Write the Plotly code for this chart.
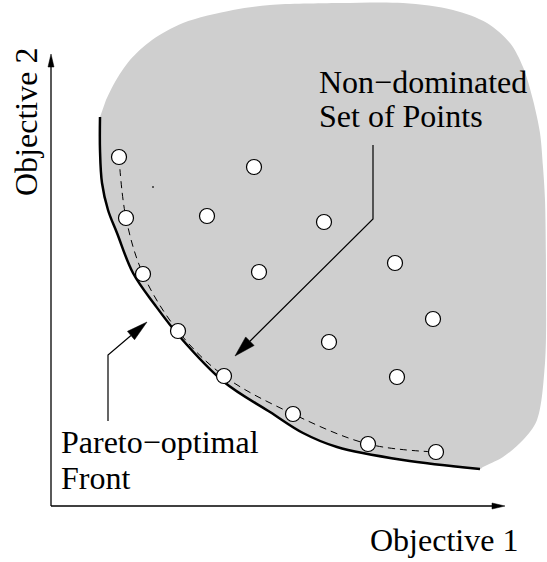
import math
import plotly.graph_objects as go

W, H = 547, 562

# Solution points (Objective 1, Objective 2) in diagram units (y grows downward)
obj1 = [119, 254, 126, 207, 324, 143, 259, 395, 178, 433, 329, 224, 397, 293, 368, 436]
obj2 = [157, 167, 218, 216, 222, 274, 272, 263, 331, 319, 342, 376, 377, 414, 444, 452]
# indices of non-dominated points
nd_idx = [0, 2, 5, 8, 11, 13, 14, 15]

# Pareto-optimal front (solid curve)
front_x = [100, 100, 102, 108, 117, 133, 155, 180, 224, 270, 303, 337, 403, 480]
front_y = [117, 150, 183, 210, 233, 273, 305, 337, 382, 412, 433, 447, 460, 469]

# Outer boundary of the feasible region (from bottom-right back to top-left)
outer_x = [483, 503, 523, 537, 545, 546, 545, 543, 540, 533, 523, 510, 487, 453, 403, 340, 270, 233, 183, 152, 130, 115, 106]
outer_y = [467, 457, 440, 420, 363, 280, 200, 167, 133, 100, 67, 43, 23, 10, 3, 3, 5, 10, 23, 40, 60, 82, 100]

stray_x = [153]
stray_y = [187]

FONT = "Liberation Serif"
FS = 32
GRAY = "#cfcfcf"

fig = go.Figure()

# feasible region
fig.add_trace(go.Scatter(
    x=front_x + outer_x, y=front_y + outer_y,
    mode="lines", fill="toself", fillcolor=GRAY,
    line=dict(color=GRAY, width=0, shape="spline", smoothing=0.9),
    hoverinfo="skip"))

# Pareto front
fig.add_trace(go.Scatter(
    x=front_x, y=front_y, mode="lines",
    line=dict(color="black", width=2.5, shape="spline"),
    hoverinfo="skip"))

# dashed line through non-dominated points
fig.add_trace(go.Scatter(
    x=[obj1[i] for i in nd_idx], y=[obj2[i] for i in nd_idx], mode="lines",
    line=dict(color="black", width=1, shape="spline", dash="7px,5px"),
    hoverinfo="skip"))

# points
fig.add_trace(go.Scatter(
    x=obj1, y=obj2, mode="markers",
    marker=dict(size=15, color="white", line=dict(color="black", width=1.2)),
    hoverinfo="skip"))

fig.add_trace(go.Scatter(
    x=stray_x, y=stray_y, mode="markers",
    marker=dict(size=2, color="#333"), hoverinfo="skip"))


def head(tip, tail, length, width):
    ux, uy = tip[0] - tail[0], tip[1] - tail[1]
    n = math.hypot(ux, uy)
    ux, uy = ux / n, uy / n
    bx, by = tip[0] - length * ux, tip[1] - length * uy
    px, py = -uy, ux
    p1 = (bx + width / 2 * px, by + width / 2 * py)
    p2 = (bx - width / 2 * px, by - width / 2 * py)
    return f"M {tip[0]},{tip[1]} L {p1[0]},{p1[1]} L {p2[0]},{p2[1]} Z", (bx, by)


shapes = []


def arrow(points, length, width, lw):
    tip = points[-1]
    tail = points[-2]
    hp, base = head(tip, tail, length, width)
    pts = points[:-1] + [base]
    path = "M " + " L ".join(f"{x},{y}" for x, y in pts)
    shapes.append(dict(type="path", path=path, xref="x", yref="y",
                       line=dict(color="black", width=lw)))
    shapes.append(dict(type="path", path=hp, xref="x", yref="y",
                       fillcolor="black", line=dict(color="black", width=0.5)))


# axes
arrow([(51, 506), (51, 54)], 13, 6, 1.3)
arrow([(51, 506), (505, 506)], 13, 6, 1.3)
# annotation arrows
arrow([(373, 145), (373, 219), (235, 356)], 21, 12, 1.2)
arrow([(108, 421), (108, 355), (147, 322)], 21, 11, 1.2)

annots = []


def label(text, x, y, angle=0, xanchor="left"):
    annots.append(dict(text=text, x=x, y=y, xref="x", yref="y", showarrow=False,
                       xanchor=xanchor, yanchor="middle", textangle=angle,
                       font=dict(family=FONT, size=FS, color="black")))


label("Non\u2212dominated", 317, 82)
label("Set of Points", 317, 116)
label("Pareto\u2212optimal", 59, 442)
label("Front", 59, 478)
label("Objective 1", 368, 540)
label("Objective 2", 26, 122, angle=-90, xanchor="center")

fig.update_layout(
    width=W, height=H, margin=dict(l=0, r=0, t=0, b=0),
    paper_bgcolor="white", plot_bgcolor="white", showlegend=False,
    xaxis=dict(range=[0, W], visible=False, fixedrange=True),
    yaxis=dict(range=[H, 0], visible=False, fixedrange=True),
    shapes=shapes, annotations=annots)

fig.write_html("out.html", config={"staticPlot": True},
               post_script="document.body.style.margin='0';document.body.style.padding='0';document.body.style.overflow='hidden';")
